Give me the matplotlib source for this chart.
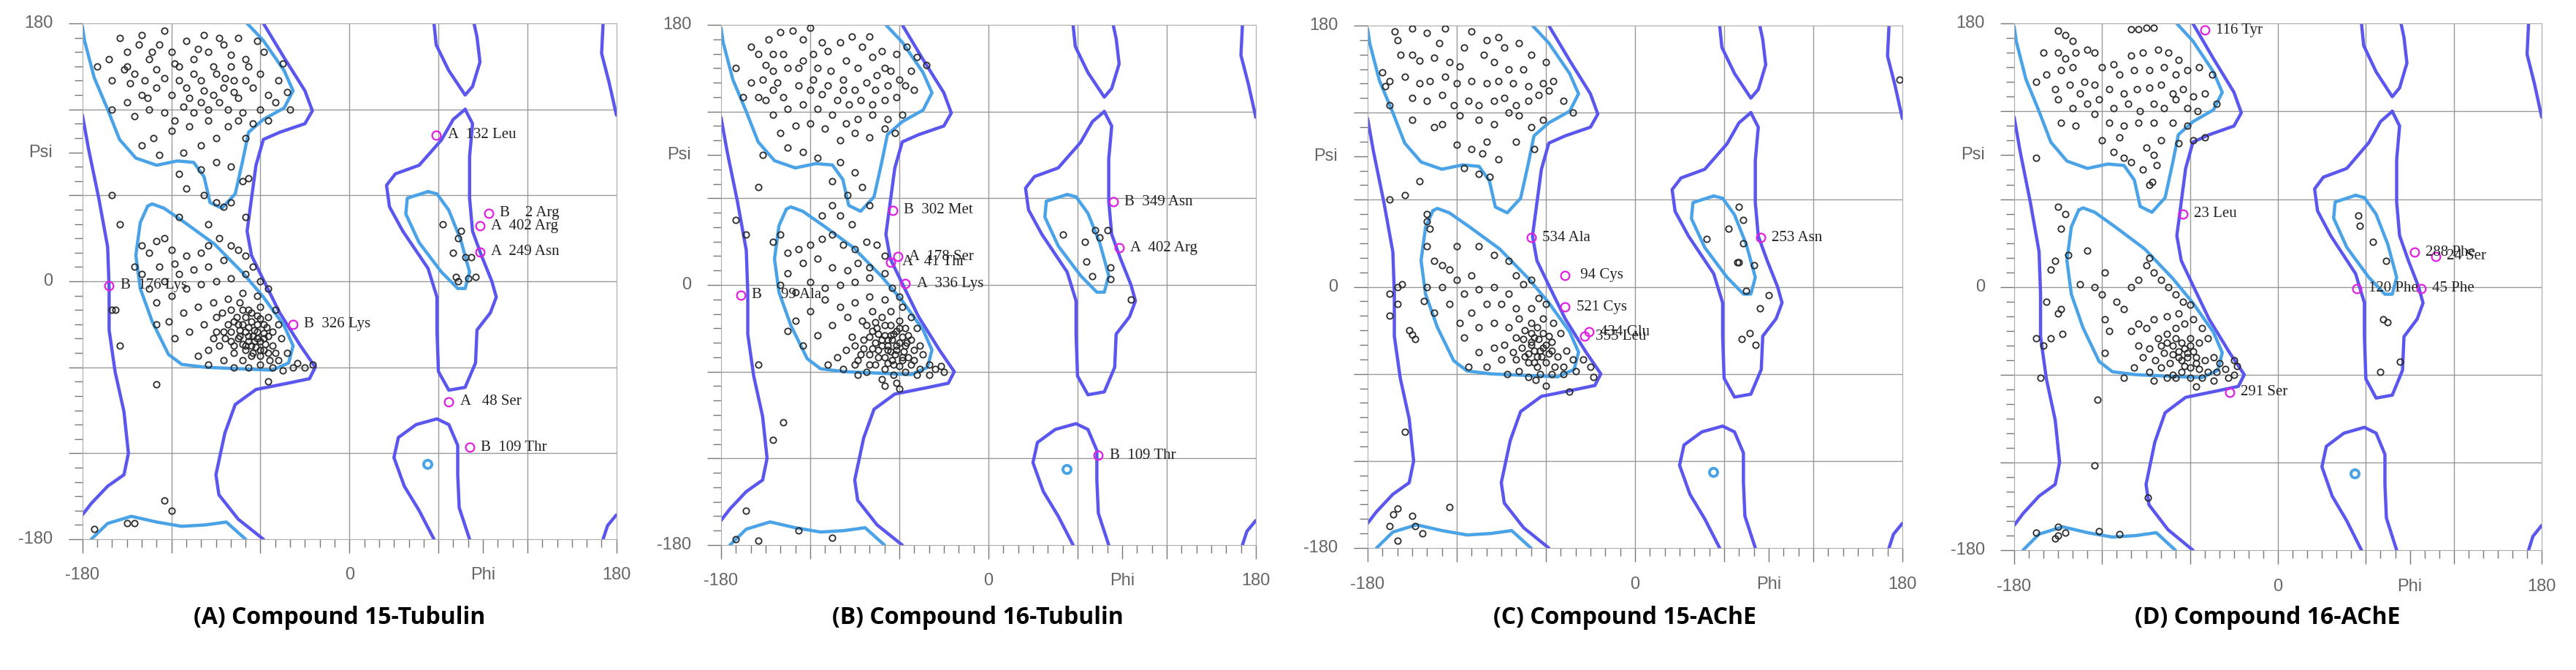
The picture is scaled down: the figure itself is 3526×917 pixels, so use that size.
"""Four Ramachandran plots (phi/psi) for compound 15/16 docked to tubulin and AChE."""

import matplotlib.pyplot as plt
import numpy as np

# ---- allowed-region contours (degrees), same on every panel ----
CORE_BETA = [(-180, 178), (-178.6, 168), (-172, 142), (-163, 120), (-155, 99), (-144, 86), (-130, 81),
             (-116, 84), (-105, 83), (-98, 73), (-94, 55), (-86, 51), (-77, 61), (-72, 84), (-68, 104),
             (-58, 113), (-44, 121), (-38, 133), (-44, 147), (-58, 168), (-69, 180)]
CORE_BETA_WRAP = [(-174, -180), (-163, -169), (-147, -164), (-130, -168), (-113, -171), (-97, -170),
                  (-83, -168), (-70, -180)]
CORE_ALPHA = [(-136, 52.5), (-141, 41), (-144, 18), (-141, -5), (-133, -28), (-122, -51), (-113, -58),
              (-97, -60), (-75, -61), (-52, -62), (-41, -57), (-38, -45), (-44, -31), (-58, -11), (-72, 6),
              (-91, 26), (-111, 41), (-125, 51), (-133, 54), (-136, 52.5)]
CORE_LEFT = [(53, 62.6), (39, 58), (38, 47), (47, 27), (62, 6.5), (73, -5), (78, -5), (81, 6.5), (75, 29),
             (67, 49.6), (59, 61), (53, 62.6)]
CORE_DOT = (52.5, -127.5)

OUT_LEFT = [(-180, 116), (-176, 93), (-169, 58), (-163, 24), (-162, -5), (-162, -34), (-158, -63),
            (-152, -91), (-149, -120), (-152, -135), (-163, -143), (-174, -155), (-180, -163)]
OUT_MID = [(-58, 180), (-44, 156), (-30, 133), (-25, 119), (-30, 110), (-47, 104), (-58, 99), (-63, 81),
           (-66, 58), (-69, 35), (-66, 18), (-58, 1), (-47, -22), (-33, -45), (-23, -60), (-27, -68),
           (-41, -71), (-63, -75.5), (-77, -86), (-84, -106), (-90, -135), (-88, -149), (-75, -166),
           (-58, -180)]
OUT_LEFTHAND = [(78, 120), (70, 113), (62, 98.6), (47, 81), (31, 75), (25, 67), (27, 52), (36, 35),
                (53, 9), (59, -11), (59, -34), (60, -63), (67, -76), (78, -74), (85, -57), (86, -34),
                (95, -22), (99, -11), (96, 0), (89, 18), (83, 35), (81, 58), (81, 87), (83, 110), (78, 120)]
OUT_GAMMA = [(57, 180), (58.5, 165), (67, 147), (78, 130), (83, 136), (88, 153), (86, 170.5), (84, 180)]
OUT_LOWER = [(57, -180), (47, -160), (37, -143), (30, -123), (33, -109), (45, -100), (59, -96), (67, -100),
             (73, -114.5), (73, -135), (74, -158), (81, -180)]
OUT_FAR_TOP = [(171, 180), (170, 159), (175, 139), (180, 116)]
OUT_FAR_BOT = [(171, -180), (174, -170.5), (180, -163)]

# ---- residues (phi, psi) ----
PTS_A = [
    (-155, 170), (-140, 172), (-128, 165), (-120, 160), (-135, 155), (-150, 150), (-160, 140), (-145, 145),
    (-130, 148), (-115, 150), (-105, 155), (-95, 160), (-85, 165), (-75, 170), (-70, 155), (-80, 150),
    (-90, 145), (-100, 140), (-110, 135), (-120, 130), (-130, 135), (-140, 130), (-150, 125), (-160, 120),
    (-145, 115), (-135, 120), (-125, 118), (-112, 122), (-100, 125), (-92, 130), (-85, 135), (-78, 140),
    (-70, 140), (-65, 135), (-60, 145), (-55, 130), (-50, 125), (-42, 132), (-40, 120), (-60, 120),
    (-72, 118), (-82, 120), (-95, 112), (-108, 108), (-120, 105), (-132, 100), (-140, 95), (-128, 88),
    (-112, 90), (-100, 95), (-90, 100), (-82, 108), (-75, 112), (-65, 110), (-150, 160), (-125, 175),
    (-110, 168), (-98, 172), (-88, 170), (-162, 155), (-170, 150), (-105, 145), (-115, 140), (-118, 112),
    (-88, 125), (-105, 118), (-138, 140), (-148, 138), (-92, 150), (-80, 158), (-75, 128), (-98, 133),
    (-125, 142), (-133, 160), (-142, 165), (-68, 150), (-58, 160), (-62, 168), (-45, 152), (-48, 140),
    (-55, 112), (-70, 100), (-80, 80), (-90, 83), (-100, 78), (-115, 75), (-110, 65), (-90, 55), (-85, 52),
    (-80, 55), (-98, 60), (-72, 70), (-68, 72), (-95, 40), (-70, 45), (-115, 45), (-152, 148), (-118, 152),
    (-102, 162), (-84, 142), (-108, 128), (-136, 128), (-95, 120), (-78, 132),
    (-160, 60), (-155, 40), (-158, -20), (-160, -20), (-155, -45), (-130, -72), (-125, -153), (-120, -160),
    (-150, -169), (-145, -169), (-172, -173),
    (-140, 25), (-135, 20), (-130, 28), (-125, 30), (-120, 22), (-145, 10), (-140, 5), (-128, 10),
    (-118, 12), (-110, 18), (-100, 20), (-95, 25), (-88, 30), (-80, 25), (-75, 22), (-70, 18), (-85, 15),
    (-95, 10), (-105, 8), (-115, 5), (-125, 0), (-135, -5), (-130, -15), (-120, -10), (-110, -5), (-100, -2),
    (-90, 0), (-80, 2), (-70, 5), (-65, 10), (-60, 0), (-55, -5), (-62, -10), (-72, -8), (-82, -12),
    (-92, -15), (-102, -18), (-112, -22), (-122, -28), (-130, -30), (-118, -40), (-108, -35), (-98, -30),
    (-90, -25), (-85, -35), (-78, -28), (-72, -20), (-66, -22), (-60, -18), (-55, -25), (-50, -20),
    (-48, -30), (-52, -35), (-58, -30), (-62, -35), (-68, -32), (-74, -38), (-80, -42), (-88, -45),
    (-95, -48), (-102, -52), (-95, -58), (-85, -55), (-78, -50), (-70, -45), (-64, -42), (-58, -40),
    (-52, -45), (-46, -40), (-42, -50), (-48, -55), (-55, -50), (-60, -48), (-66, -52), (-72, -55),
    (-78, -60), (-68, -60), (-60, -58), (-52, -60), (-45, -62), (-38, -60), (-35, -57), (-30, -60),
    (-25, -58), (-55, -70),
    (-70, -35), (-65, -38), (-60, -42), (-68, -42), (-72, -44), (-63, -46), (-58, -36), (-66, -28),
    (-70, -25), (-75, -30), (-62, -30), (-57, -44), (-65, -50), (-70, -48), (-75, -40), (-80, -35),
    (-55, -38), (-60, -26), (-68, -38), (-64, -34), (-72, -30), (-58, -48), (-62, -40), (-66, -45),
    (-74, -34), (-78, -45), (-84, -40), (-82, -30), (-76, -25), (-60, -52), (-54, -55), (-50, -50),
    (-56, -32), (-62, -24), (-68, -20), (-74, -15), (-80, -20), (-86, -22), (-90, -35), (-92, -40),
    (63, 40), (75, 35), (73, 30), (70, 20), (78, 17), (72, 3), (73, 0), (80, 2), (85, 3), (82, 17),
]

PTS_B = [
    (-170, 150), (-160, 165), (-155, 160), (-148, 170), (-140, 175), (-132, 176), (-125, 170), (-118, 160),
    (-108, 162), (-100, 168), (-92, 172), (-85, 165), (-78, 158), (-70, 150), (-62, 160), (-55, 165),
    (-48, 158), (-42, 152), (-52, 148), (-60, 142), (-68, 138), (-75, 145), (-82, 140), (-90, 135),
    (-98, 142), (-106, 148), (-115, 150), (-125, 155), (-135, 150), (-145, 148), (-152, 142), (-160, 140),
    (-165, 130), (-155, 130), (-145, 135), (-138, 130), (-128, 138), (-120, 135), (-112, 132), (-102, 128),
    (-94, 125), (-86, 128), (-78, 125), (-70, 128), (-62, 130), (-56, 138), (-50, 135), (-58, 118),
    (-68, 115), (-78, 118), (-88, 115), (-96, 112), (-105, 118), (-115, 122), (-125, 125), (-135, 122),
    (-145, 118), (-150, 128), (-110, 108), (-100, 100), (-90, 105), (-80, 102), (-70, 108), (-63, 105),
    (-130, 110), (-120, 112), (-140, 105), (-135, 95), (-125, 92), (-115, 88), (-100, 85), (-90, 78),
    (-105, 72), (-85, 68), (-95, 62), (-80, 55), (-105, 55), (-112, 48), (-100, 48), (-92, 42),
    (-145, 160), (-138, 160), (-128, 150), (-112, 168), (-96, 155), (-88, 150), (-76, 135), (-66, 148),
    (-150, 152), (-142, 140), (-118, 142), (-108, 138), (-98, 135), (-72, 162), (-80, 172), (-120, 178),
    (-152, 90), (-155, 68), (-170, 45), (-163, 35), (-155, -55), (-138, -95), (-145, -107), (-163, -156),
    (-170, -176), (-155, -177), (-105, -175), (-128, -170),
    (-145, 30), (-140, 35), (-135, 22), (-128, 25), (-120, 28), (-112, 32), (-105, 35), (-98, 28),
    (-90, 25), (-82, 30), (-75, 28), (-70, 20), (-80, 12), (-88, 15), (-95, 10), (-105, 12), (-115, 18),
    (-125, 15), (-135, 8), (-140, 0), (-130, -5), (-120, 2), (-110, -2), (-100, 0), (-90, 2), (-80, 5),
    (-70, 8), (-65, -2), (-60, -8), (-70, -10), (-80, -8), (-90, -12), (-100, -15), (-110, -10),
    (-120, -18), (-130, -25), (-135, -32), (-125, -42), (-115, -35), (-105, -28), (-95, -22), (-85, -25),
    (-78, -18), (-72, -22), (-66, -18), (-58, -15), (-52, -22), (-48, -30), (-54, -35), (-60, -30),
    (-66, -35), (-72, -38), (-78, -32), (-84, -38), (-90, -42), (-96, -45), (-102, -50), (-108, -55),
    (-98, -58), (-88, -52), (-80, -48), (-74, -45), (-68, -42), (-62, -45), (-56, -42), (-50, -45),
    (-44, -48), (-40, -55), (-46, -58), (-52, -55), (-58, -52), (-64, -55), (-70, -58), (-76, -55),
    (-82, -60), (-88, -62), (-72, -65), (-64, -62), (-56, -60), (-48, -62), (-40, -62), (-36, -58),
    (-32, -56), (-30, -60), (-62, -68), (-70, -70), (-60, -72),
    (-70, -35), (-65, -38), (-60, -40), (-68, -45), (-72, -42), (-63, -48), (-58, -36), (-66, -28),
    (-70, -28), (-75, -30), (-62, -32), (-57, -46), (-65, -52), (-70, -50), (-76, -40), (-80, -36),
    (-55, -40), (-60, -25), (-68, -38), (-64, -34), (-74, -34), (-58, -50), (-62, -42), (-66, -46),
    (-78, -44), (-84, -44), (-82, -28), (-76, -26), (-54, -50), (-50, -52), (-56, -30), (-86, -48),
    (-92, -36), (-74, -50), (-80, -55), (-60, -56), (-68, -54), (-52, -38), (-46, -42), (-90, -55),
    (50, 35), (65, 30), (72, 38), (75, 33), (80, 38), (66, 16), (70, 6), (82, 12), (82, 4), (96, -10),
]

PTS_C = [
    (-162, 176), (-160, 170), (-150, 178), (-140, 175), (-132, 168), (-128, 178), (-110, 176), (-100, 170),
    (-88, 165), (-78, 168), (-158, 160), (-150, 160), (-145, 156), (-135, 158), (-118, 152), (-102, 160),
    (-95, 155), (-85, 150), (-75, 150), (-70, 160), (-60, 155), (-170, 148), (-165, 142), (-155, 145),
    (-145, 140), (-138, 142), (-128, 145), (-120, 140), (-110, 142), (-100, 140), (-92, 142), (-82, 140),
    (-72, 138), (-62, 140), (-55, 142), (-168, 138), (-150, 130), (-140, 128), (-130, 132), (-122, 125),
    (-112, 128), (-105, 125), (-95, 128), (-88, 130), (-80, 125), (-72, 128), (-65, 132), (-58, 135),
    (-48, 128), (-42, 120), (-165, 125), (-150, 115), (-130, 112), (-118, 118), (-105, 115), (-95, 112),
    (-85, 120), (-78, 118), (-70, 110), (-62, 115), (-120, 98), (-110, 95), (-103, 92), (-100, 100),
    (-92, 88), (-80, 100), (-68, 95), (-115, 82), (-105, 78), (-98, 76), (-145, 73), (-155, 63),
    (-135, 110), (-125, 155), (-115, 165), (-92, 172),
    (-165, 60), (-155, -100), (-160, -153), (-163, -157), (-165, -165), (-150, -158), (-148, -165),
    (-125, -152), (-160, -175), (-143, -170), (178, 143),
    (-165, -5), (-160, -12), (-157, 2), (-160, 0), (-152, -30), (-150, -33), (-148, -36), (-165, -20),
    (-140, 50), (-140, 45), (-138, 40), (-140, 28), (-135, 18), (-130, 15), (-125, 12), (-120, 28),
    (-105, 28), (-95, 22), (-85, 18), (-80, 8), (-110, 8), (-120, 5), (-130, 0), (-140, 0), (-142, -10),
    (-135, -18), (-125, -12), (-115, -5), (-105, -2), (-95, 0), (-85, -5), (-75, 2), (-70, 5), (-65, -8),
    (-60, -12), (-70, -15), (-80, -15), (-90, -12), (-100, -12), (-110, -18), (-118, -25), (-115, -35),
    (-105, -28), (-95, -25), (-85, -28), (-78, -22), (-70, -25), (-62, -22), (-55, -25), (-50, -32),
    (-56, -38), (-62, -32), (-68, -35), (-74, -30), (-80, -35), (-88, -40), (-95, -42), (-105, -45),
    (-112, -55), (-100, -55), (-90, -50), (-82, -45), (-76, -42), (-70, -40), (-64, -44), (-58, -46),
    (-52, -48), (-46, -44), (-42, -50), (-48, -55), (-54, -55), (-60, -52), (-66, -55), (-72, -52),
    (-78, -58), (-86, -60), (-72, -62), (-64, -60), (-56, -60), (-48, -60), (-40, -58), (-35, -50),
    (-30, -55), (-28, -62), (-60, -68), (-67, -64), (-70, -38), (-65, -36), (-60, -40), (-68, -44),
    (-72, -46), (-63, -48), (-58, -34), (-66, -28), (-75, -36), (-62, -42), (-66, -48), (-70, -32),
    (-56, -44), (-68, -52), (-74, -48), (-80, -50), (-44, -72),
    (48, 33), (63, 40), (70, 55), (73, 46), (73, 30), (69, 17), (70, 17), (80, 15), (75, -3), (90, -6),
    (84, -15), (72, -36), (77, -32), (81, -40),
]

PTS_D = [
    (-150, 175), (-145, 172), (-140, 168), (-125, 160), (-100, 176), (-95, 176), (-90, 177), (-85, 177),
    (-160, 160), (-150, 160), (-145, 156), (-138, 160), (-130, 162), (-112, 152), (-100, 158), (-92, 160),
    (-82, 162), (-75, 160), (-68, 155), (-158, 145), (-148, 148), (-140, 150), (-132, 140), (-120, 150),
    (-108, 145), (-98, 148), (-88, 148), (-78, 150), (-70, 145), (-62, 148), (-54, 150), (-45, 145),
    (-165, 140), (-152, 135), (-142, 138), (-135, 132), (-125, 138), (-115, 135), (-105, 132), (-96, 135),
    (-88, 136), (-80, 138), (-72, 132), (-65, 135), (-58, 130), (-50, 132), (-150, 128), (-140, 122),
    (-130, 125), (-122, 128), (-112, 122), (-102, 125), (-94, 120), (-85, 125), (-78, 122), (-70, 128),
    (-62, 122), (-55, 120), (-42, 125), (-148, 112), (-138, 110), (-125, 118), (-115, 112), (-105, 110),
    (-95, 112), (-85, 112), (-72, 112), (-62, 110), (-120, 100), (-108, 102), (-90, 95), (-80, 100),
    (-68, 98), (-58, 100), (-50, 102), (-105, 88), (-100, 85), (-85, 90), (-83, 83), (-92, 80),
    (-112, 92), (-88, 70), (-86, 72), (-165, 88),
    (-150, 55), (-145, 50), (-148, 40), (-162, -62), (-123, -77), (-125, -122), (-89, -144), (-150, -164),
    (-150, -170), (-152, -172), (-145, -168), (-122, -167), (-108, -169), (-165, -168),
    (-155, 12), (-152, 18), (-160, -40), (-155, -35), (-147, -32), (-150, -18), (-148, -15), (-158, -10),
    (-165, -35), (-135, 2), (-143, 22), (-130, 25), (-125, 0), (-120, -5), (-118, 10), (-110, -10),
    (-118, -22), (-118, -45), (-115, -30), (-105, -15), (-100, 0), (-95, 5), (-90, 15), (-88, 20),
    (-95, -25), (-85, 10), (-80, 5), (-75, 0), (-70, -5), (-65, -10), (-60, -12), (-68, -18), (-76, -20),
    (-85, -22), (-90, -28), (-100, -30), (-95, -40), (-88, -42), (-82, -35), (-76, -32), (-70, -28),
    (-64, -25), (-58, -22), (-52, -28), (-48, -35), (-54, -38), (-60, -35), (-66, -38), (-72, -40),
    (-78, -45), (-84, -50), (-92, -48), (-98, -55), (-88, -58), (-80, -55), (-74, -52), (-68, -48),
    (-62, -45), (-56, -48), (-50, -50), (-44, -48), (-40, -52), (-36, -56), (-42, -58), (-48, -58),
    (-54, -56), (-60, -55), (-66, -58), (-72, -60), (-60, -62), (-52, -62), (-44, -64), (-34, -62),
    (-30, -60), (-28, -54), (-30, -50), (-76, -62), (-60, -40), (-64, -42), (-68, -44), (-70, -35),
    (-62, -48), (-58, -44), (-66, -50), (-72, -46), (-56, -52), (-64, -54), (-80, -40), (-76, -38),
    (-85, -64), (-105, -62), (-56, -68), (-70, -62),
    (55, 49), (56, 42), (65, 31), (74, 18), (72, -22), (75, -24), (70, -58), (83, -51),
]

FLAGS = {
    'A': [(58.7, 102, 'A  132 Leu'), (94, 47.6, 'B    2 Arg'), (88, 38.6, 'A  402 Arg'), (88, 20.6, 'A  249 Asn'),
          (-162, -3, 'B  176 Lys'), (-38, -30, 'B  326 Lys'), (67, -84, 'A   48 Ser'), (81, -116, 'B  109 Thr')],
    'B': [(-64.6, 51.6, 'B  302 Met'), (-61, 19.7, 'A  178 Ser'), (-65.7, 15.7, 'A   41 Thr'),
          (-55.8, 0.9, 'A  336 Lys'), (-166.7, -7, 'B     99 Ala'), (84, 57.6, 'B  349 Asn'),
          (88, 25.7, 'A  402 Arg'), (74, -118, 'B  109 Thr')],
    'C': [(-70, 33.8, '534 Ala'), (-47, 8, ' 94 Cys'), (-47, -14, '521 Cys'), (-31, -31, '434 Glu'),
          (-34, -34, '355 Leu'), (84.7, 33.8, '253 Asn')],
    'D': [(-50, 175.5, '116 Tyr'), (-65, 50, '23 Leu'), (93, 23.7, '288 Phe'), (107.7, 21, '24 Ser'),
          (54, -1, '120 Phe'), (97.8, -1, '45 Phe'), (-33, -72, '291 Ser')],
}

TITLES = ['(A) Compound 15-Tubulin', '(B) Compound 16-Tubulin', '(C) Compound 15-AChE', '(D) Compound 16-AChE']
PANELS = [('A', PTS_A), ('B', PTS_B), ('C', PTS_C), ('D', PTS_D)]
RECTS = [(0.0320, 0.1952, 0.2073, 0.7699), (0.2799, 0.1865, 0.2076, 0.7764),
         (0.5309, 0.1821, 0.2076, 0.7797), (0.7819, 0.1788, 0.2048, 0.7860)]

DARK = '#5b57ee'
LIGHT = '#4aa3e6'
GRAY = '#666666'


def line(ax, pts, color):
    a = np.array(pts)
    ax.plot(a[:, 0], a[:, 1], color=color, lw=3.2, solid_capstyle='round', zorder=2)


def draw(ax, key, pts):
    for g in [-120, -60, 0, 60, 120]:
        ax.axvline(g, color='#999999', lw=1.0, zorder=1)
        ax.axhline(g, color='#999999', lw=1.0, zorder=1)
    for c in [OUT_LEFT, OUT_MID, OUT_LEFTHAND, OUT_GAMMA, OUT_LOWER, OUT_FAR_TOP, OUT_FAR_BOT]:
        line(ax, c, DARK)
    for c in [CORE_BETA, CORE_BETA_WRAP, CORE_ALPHA, CORE_LEFT]:
        line(ax, c, LIGHT)
    ax.plot(*CORE_DOT, 'o', ms=8, mfc='none', mec=LIGHT, mew=2.8, zorder=2)

    a = np.array(pts)
    ax.plot(a[:, 0], a[:, 1], 'o', ms=6, mfc='none', mec='#2a2a2a', mew=1.3, zorder=3)
    for x, y, lab in FLAGS[key]:
        ax.plot(x, y, 'o', ms=8.5, mfc='none', mec='#e020e0', mew=1.6, zorder=4)
        ax.annotate(lab, (x, y), xytext=(11, 0), textcoords='offset points', va='center',
                    fontsize=15, family='Liberation Serif', color='#222222', zorder=5)

    ax.set_xlim(-180, 180)
    ax.set_ylim(-180, 180)
    ax.set_xticks([-180, -120, -60, 0, 60, 90, 120, 180])
    ax.set_yticks([-180, -120, -60, 0, 60, 90, 120, 180])
    ax.set_xticks(np.arange(-180, 181, 10), minor=True)
    ax.set_yticks(np.arange(-180, 181, 10), minor=True)
    ax.set_xticklabels([])
    ax.set_yticklabels([])
    ax.tick_params(which='major', length=14, width=1, color='#777777')
    ax.tick_params(which='minor', length=8, width=1, color='#777777')
    for s in ax.spines.values():
        s.set_color('#aaaaaa')
    for v, t in [(-180, '-180'), (0, '0'), (90, 'Phi'), (180, '180')]:
        ax.text(v, -205, t, ha='center', va='center', fontsize=17, color=GRAY, family='Liberation Sans')
    for v, t in [(-180, '-180'), (0, '0'), (90, 'Psi'), (180, '180')]:
        ax.text(-200, v, t, ha='right', va='center', fontsize=17, color=GRAY, family='Liberation Sans')


def main():
    fig = plt.figure(figsize=(35.26, 9.17), dpi=100)
    for (key, pts), rect, title in zip(PANELS, RECTS, TITLES):
        ax = fig.add_axes(rect)
        draw(ax, key, pts)
        fig.text(rect[0] + rect[2] / 2 - 0.004, 0.078, title, ha='center', va='center',
                 fontsize=23, fontweight='bold', family='Open Sans')
    fig.savefig('out.png', dpi=100)


if __name__ == '__main__':
    main()
